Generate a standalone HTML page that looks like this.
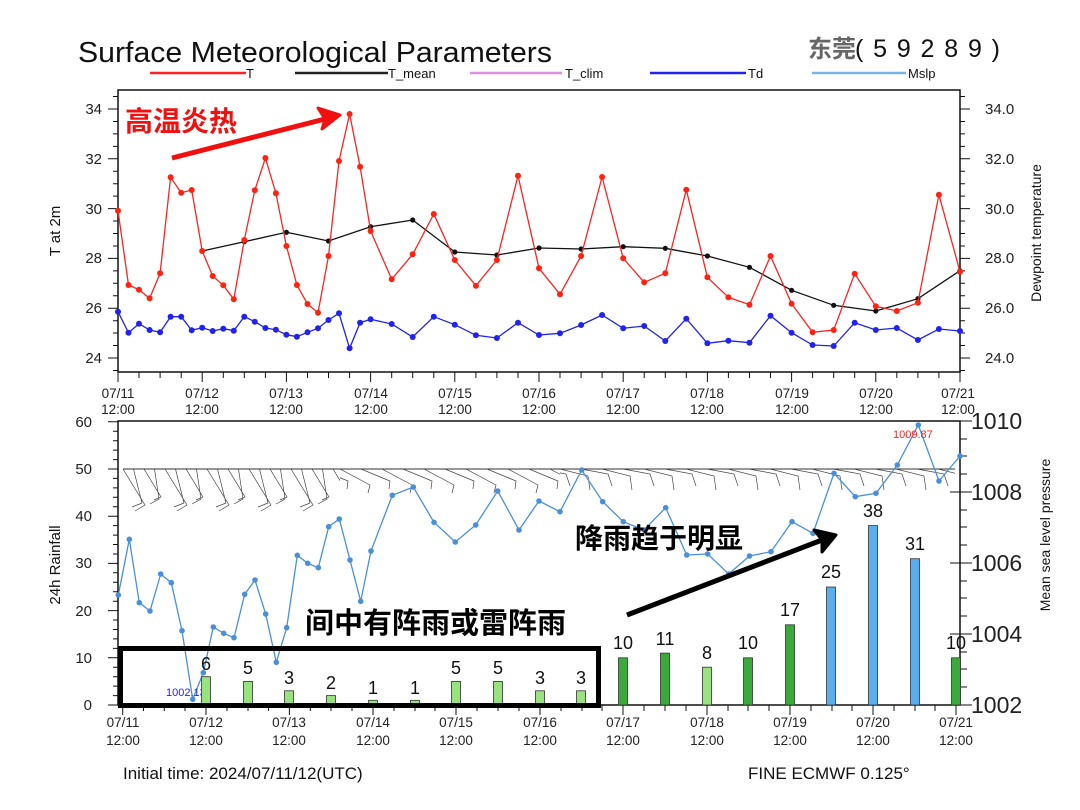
<!DOCTYPE html>
<html><head><meta charset="utf-8"><style>
body{margin:0;background:#fff}
svg{display:block;font-family:"Liberation Sans","Noto Sans CJK SC",sans-serif}
</style></head><body>
<svg width="1080" height="810" viewBox="0 0 1080 810" xmlns="http://www.w3.org/2000/svg">
<defs>
<marker id="mr" markerWidth="8" markerHeight="8" refX="4" refY="4" markerUnits="userSpaceOnUse"><circle cx="4" cy="4" r="3" fill="#f21"/></marker>
<marker id="mb" markerWidth="8" markerHeight="8" refX="4" refY="4" markerUnits="userSpaceOnUse"><circle cx="4" cy="4" r="3" fill="#22e"/></marker>
<marker id="mk" markerWidth="8" markerHeight="8" refX="4" refY="4" markerUnits="userSpaceOnUse"><circle cx="4" cy="4" r="2.6" fill="#111"/></marker>
<marker id="ml" markerWidth="8" markerHeight="8" refX="4" refY="4" markerUnits="userSpaceOnUse"><circle cx="4" cy="4" r="2.8" fill="#4a90d9"/></marker>
<pattern id="pa" x="123" y="469" width="42" height="45" patternUnits="userSpaceOnUse">
<path d="M0,0L22,36L12,42M10.5,0L19,34L9,38M21,0L38,28L31,31M31.5,0L36,30L27,35
M-42,0L-20,36L-30,42M-31.5,0L-23,34L-33,38M-21,0L-4,28L-11,31M-10.5,0L-6,30L-15,35" stroke="#444" stroke-width="0.7" fill="none"/></pattern>
<pattern id="pb" x="340" y="469" width="42" height="45" patternUnits="userSpaceOnUse">
<path d="M0,0L30,16L28,24M21,0L50,12L49,20M-42,0L-12,16L-14,24M-21,0L8,12L7,20" stroke="#444" stroke-width="0.7" fill="none"/></pattern>
<pattern id="pc" x="560" y="466" width="42" height="45" patternUnits="userSpaceOnUse">
<path d="M0,3L28,10L30,24M21,3L48,8L52,20M-42,3L-14,10L-12,24M-21,3L6,8L10,20" stroke="#444" stroke-width="0.7" fill="none"/></pattern>
</defs>

<text x="78" y="62" font-size="29" fill="#111" textLength="474" lengthAdjust="spacingAndGlyphs">Surface Meteorological Parameters</text>
<text x="808" y="57" font-size="24" fill="#666" font-weight="bold">东莞</text>
<text x="855" y="57" font-size="25" fill="#111" textLength="145" lengthAdjust="spacing">(59289)</text>

<g font-size="13" fill="#111">
<line x1="150" y1="73" x2="246" y2="73" stroke="#f22" stroke-width="2.5"/><text x="246" y="78">T</text>
<line x1="295" y1="73" x2="388" y2="73" stroke="#222" stroke-width="2.5"/><text x="388" y="78">T_mean</text>
<line x1="470" y1="73" x2="562" y2="73" stroke="#e08ee0" stroke-width="2.5"/><text x="565" y="78">T_clim</text>
<line x1="650" y1="73" x2="746" y2="73" stroke="#22e" stroke-width="2.5"/><text x="748" y="78">Td</text>
<line x1="812" y1="73" x2="906" y2="73" stroke="#7ab4e6" stroke-width="2.5"/><text x="908" y="78">Mslp</text>
</g>

<!-- TOP PANEL -->
<rect x="118" y="90" width="842" height="282" fill="none" stroke="#111" stroke-width="1.5"/>
<g stroke="#111" stroke-width="1">
<path d="M118,358h-10M118,308.2h-10M118,258.4h-10M118,208.6h-10M118,158.8h-10M118,109h-10M118,370.5h-5M118,345.5h-5M118,333h-5M118,320.7h-5M118,295.8h-5M118,283.3h-5M118,270.9h-5M118,246h-5M118,233.5h-5M118,221h-5M118,196.1h-5M118,183.7h-5M118,171.2h-5M118,146.4h-5M118,133.9h-5M118,121.5h-5M118,96.5h-5"/>
<path d="M960,358h10M960,308.2h10M960,258.4h10M960,208.6h10M960,158.8h10M960,109h10M960,370.5h5M960,345.5h5M960,333h5M960,320.7h5M960,295.8h5M960,283.3h5M960,270.9h5M960,246h5M960,233.5h5M960,221h5M960,196.1h5M960,183.7h5M960,171.2h5M960,146.4h5M960,133.9h5M960,121.5h5M960,96.5h5"/>
<path d="M118,372v10M202.2,372v10M286.4,372v10M370.6,372v10M454.8,372v10M539,372v10M623.2,372v10M707.4,372v10M791.6,372v10M875.8,372v10M960,372v10M139,372v6M160.1,372v6M181.2,372v6M223.3,372v6M244.3,372v6M265.4,372v6M307.5,372v6M328.5,372v6M349.6,372v6M391.7,372v6M412.7,372v6M433.8,372v6M475.9,372v6M496.9,372v6M518,372v6M560,372v6M581.1,372v6M602.1,372v6M644.2,372v6M665.3,372v6M686.3,372v6M728.4,372v6M749.5,372v6M770.5,372v6M812.6,372v6M833.7,372v6M854.7,372v6M896.8,372v6M917.9,372v6M938.9,372v6"/>
</g>
<g font-size="15" fill="#222" text-anchor="end">
<text x="102" y="363">24</text><text x="102" y="313">26</text><text x="102" y="263">28</text><text x="102" y="214">30</text><text x="102" y="164">32</text><text x="102" y="114">34</text>
</g>
<g font-size="15" fill="#222">
<text x="985" y="363">24.0</text><text x="985" y="313">26.0</text><text x="985" y="263">28.0</text><text x="985" y="214">30.0</text><text x="985" y="164">32.0</text><text x="985" y="114">34.0</text>
</g>
<text transform="translate(60,231) rotate(-90)" font-size="15" text-anchor="middle" fill="#111">T at 2m</text>
<text transform="translate(1041,233) rotate(-90)" font-size="14" text-anchor="middle" fill="#111">Dewpoint temperature</text>
<g font-size="13.5" fill="#222" text-anchor="middle">
<text x="118" y="398">07/11</text><text x="202" y="398">07/12</text><text x="286" y="398">07/13</text><text x="371" y="398">07/14</text><text x="455" y="398">07/15</text><text x="539" y="398">07/16</text><text x="623" y="398">07/17</text><text x="707" y="398">07/18</text><text x="792" y="398">07/19</text><text x="876" y="398">07/20</text><text x="958" y="398">07/21</text>
<text x="118" y="414">12:00</text><text x="202" y="414">12:00</text><text x="286" y="414">12:00</text><text x="371" y="414">12:00</text><text x="455" y="414">12:00</text><text x="539" y="414">12:00</text><text x="623" y="414">12:00</text><text x="707" y="414">12:00</text><text x="792" y="414">12:00</text><text x="876" y="414">12:00</text><text x="958" y="414">12:00</text>
</g>

<polyline fill="none" stroke="#111" stroke-width="1.3" marker-start="url(#mk)" marker-mid="url(#mk)" marker-end="url(#mk)" points="202.2,251 244.3,241.7 286.4,232.3 328.5,241 370.6,226.7 412.7,220 454.8,252 496.9,255 539,248 581.1,249 623.2,246.7 665.3,248.3 707.4,256 749.5,267.3 791.6,290.3 833.7,305.3 875.8,311 917.9,298.7 960,270.7"/>
<polyline fill="none" stroke="#f22" stroke-width="1.3" marker-start="url(#mr)" marker-mid="url(#mr)" marker-end="url(#mr)" points="118,210.7 128.5,285 139,289.7 149.6,298.3 160.1,273.3 170.6,177.3 181.2,192.7 191.7,190 202.2,251 212.7,276 223.3,285.3 233.8,299.3 244.3,240 254.8,190.3 265.4,158 275.9,193.3 286.4,246 296.9,285 307.5,304 318,312.7 328.5,256 339,161 349.6,114 360.1,166.7 370.6,231 391.7,279.3 412.7,254.3 433.8,214 454.8,260 475.9,285.7 496.9,260 518,175.7 539,268.3 560,294.3 581.1,256 602.1,177 623.2,258.3 644.2,282.3 665.3,273.3 686.3,189.7 707.4,277.3 728.4,297.3 749.5,304.7 770.5,256 791.6,303.7 812.6,332.3 833.7,330 854.7,273.7 875.8,306.3 896.8,311 917.9,302.7 938.9,194.7 960,271.7"/>
<polyline fill="none" stroke="#22e" stroke-width="1.3" marker-start="url(#mb)" marker-mid="url(#mb)" marker-end="url(#mb)" points="118,311.7 128.5,332.7 139,323.7 149.6,330 160.1,332.3 170.6,316.7 181.2,316.7 191.7,330.3 202.2,327.7 212.7,331 223.3,328.7 233.8,330.7 244.3,316.7 254.8,321.7 265.4,328 275.9,329.7 286.4,334.7 296.9,336.7 307.5,332.3 318,328.3 328.5,320 339,313.3 349.6,348.3 360.1,322.7 370.6,319.3 391.7,324 412.7,337 433.8,316.7 454.8,324.7 475.9,335.3 496.9,338 518,322.7 539,335 560,333.3 581.1,325 602.1,315 623.2,328.3 644.2,326 665.3,341 686.3,318.7 707.4,343.3 728.4,340.7 749.5,342.7 770.5,315.7 791.6,332.7 812.6,345 833.7,346 854.7,322.7 875.8,330 896.8,328 917.9,340 938.9,329 960,331"/>

<text x="125" y="131" font-size="28" font-weight="bold" fill="#f01010">高温炎热</text>
<line x1="172" y1="158" x2="325" y2="119" stroke="#f01010" stroke-width="5"/>
<path d="M340,115L318,108L325,119L322,129Z" fill="#f01010" stroke="#f01010" stroke-width="3" stroke-linejoin="round"/>

<!-- BOTTOM PANEL -->
<rect x="123" y="466" width="217" height="46" fill="url(#pa)"/>
<rect x="340" y="455" width="220" height="40" fill="url(#pb)"/>
<rect x="560" y="455" width="395" height="45" fill="url(#pc)"/>
<line x1="123" y1="469" x2="955" y2="469" stroke="#333" stroke-width="1"/>

<rect x="118" y="421" width="842" height="284" fill="none" stroke="#111" stroke-width="1.5"/>
<g stroke="#111" stroke-width="1">
<path d="M118,705h-10M118,657.8h-10M118,610.6h-10M118,563.4h-10M118,516.2h-10M118,469h-10M118,421.8h-10M118,695.6h-5M118,686.1h-5M118,676.7h-5M118,667.2h-5M118,648.4h-5M118,638.9h-5M118,629.5h-5M118,620h-5M118,601.2h-5M118,591.7h-5M118,582.3h-5M118,572.8h-5M118,554h-5M118,544.5h-5M118,535.1h-5M118,525.6h-5M118,506.8h-5M118,497.3h-5M118,487.9h-5M118,478.4h-5M118,459.6h-5M118,450.1h-5M118,440.7h-5M118,431.2h-5"/>
<path d="M950,705h22M950,634h22M950,563h22M950,492h22M950,421h22M960,687h7M960,669h7M960,652h7M960,616h7M960,598h7M960,581h7M960,545h7M960,527h7M960,510h7M960,474h7M960,456h7M960,439h7"/>
<path d="M122.7,705v10M206,705v10M289.4,705v10M373,705v10M456,705v10M540,705v10M623,705v10M707,705v10M790,705v10M873,705v10M956,705v10M143.5,705v6M164.3,705v6M185,705v6M227,705v6M248,705v6M268.6,705v6M310.3,705v6M331,705v6M352,705v6M394,705v6M415,705v6M435,705v6M477,705v6M498,705v6M519,705v6M561,705v6M582,705v6M602,705v6M644,705v6M665,705v6M686,705v6M728,705v6M748,705v6M769,705v6M811,705v6M832,705v6M852,705v6M894,705v6M915,705v6M935,705v6"/>
</g>
<g font-size="15" fill="#222" text-anchor="end">
<text x="92" y="710">0</text><text x="92" y="663">10</text><text x="92" y="616">20</text><text x="92" y="568">30</text><text x="92" y="521">40</text><text x="92" y="474">50</text><text x="92" y="427">60</text>
</g>
<g font-size="23" fill="#222">
<text x="971" y="713">1002</text><text x="971" y="642">1004</text><text x="971" y="571">1006</text><text x="971" y="500">1008</text><text x="971" y="429">1010</text>
</g>
<text transform="translate(60,565) rotate(-90)" font-size="15" text-anchor="middle" fill="#111">24h Rainfall</text>
<text transform="translate(1050,535) rotate(-90)" font-size="14" text-anchor="middle" fill="#111">Mean sea level pressure</text>
<g font-size="13.5" fill="#222" text-anchor="middle">
<text x="123" y="727">07/11</text><text x="206" y="727">07/12</text><text x="289" y="727">07/13</text><text x="373" y="727">07/14</text><text x="456" y="727">07/15</text><text x="540" y="727">07/16</text><text x="623" y="727">07/17</text><text x="707" y="727">07/18</text><text x="790" y="727">07/19</text><text x="873" y="727">07/20</text><text x="956" y="727">07/21</text>
<text x="123" y="745">12:00</text><text x="206" y="745">12:00</text><text x="289" y="745">12:00</text><text x="373" y="745">12:00</text><text x="456" y="745">12:00</text><text x="540" y="745">12:00</text><text x="623" y="745">12:00</text><text x="707" y="745">12:00</text><text x="790" y="745">12:00</text><text x="873" y="745">12:00</text><text x="956" y="745">12:00</text>
</g>

<polyline fill="none" stroke="#4a90d9" stroke-width="1.3" marker-start="url(#ml)" marker-mid="url(#ml)" marker-end="url(#ml)" points="118.3,595 129.3,539.3 139.3,602.7 150,611 160.7,574 171.3,582.7 182,630.7 192.7,699.3 203.3,672.7 213.3,627 223.7,633.3 234,637.7 244.7,594.3 255,580 265.7,614 276.3,662.3 286.7,627.7 297.3,555.3 307.7,563.3 318.3,567.7 328.7,526.7 339.3,519 350,560 360.7,601.3 371,551 392.3,495.3 413.3,487 434,522.3 455.3,542 475.7,525 497.7,491 519,530 539,501 560,511.7 581.7,470 602.7,501.7 623.3,521.7 644,530 665.7,507.7 686.7,555 707.7,554 728.7,574 749.5,556 771,551.7 792,521.7 813,533.3 834,473.3 855.3,496.7 876,493.3 897.3,465 918.3,425 939,481 960,456"/>
<text x="166" y="696" font-size="11" fill="#22e">1002.13</text>
<text x="893" y="438" font-size="11" fill="#f22">1009.87</text>

<g stroke="#333" stroke-width="0.8">
<rect x="201.5" y="676.7" width="9" height="28.3" fill="#98e27f"/>
<rect x="243.5" y="681.4" width="9" height="23.6" fill="#98e27f"/>
<rect x="284.5" y="690.8" width="9" height="14.2" fill="#98e27f"/>
<rect x="326.5" y="695.6" width="9" height="9.4" fill="#98e27f"/>
<rect x="368.5" y="700.3" width="9" height="4.7" fill="#98e27f"/>
<rect x="410.5" y="700.3" width="9" height="4.7" fill="#98e27f"/>
<rect x="451.5" y="681.4" width="9" height="23.6" fill="#98e27f"/>
<rect x="493.5" y="681.4" width="9" height="23.6" fill="#98e27f"/>
<rect x="535.5" y="690.8" width="9" height="14.2" fill="#98e27f"/>
<rect x="576.5" y="690.8" width="9" height="14.2" fill="#98e27f"/>
<rect x="618.5" y="657.8" width="9" height="47.2" fill="#3aab3a"/>
<rect x="660.5" y="653.1" width="9" height="51.9" fill="#3aab3a"/>
<rect x="702.5" y="667.2" width="9" height="37.8" fill="#98e27f"/>
<rect x="743.5" y="657.8" width="9" height="47.2" fill="#3aab3a"/>
<rect x="785.5" y="624.8" width="9" height="80.2" fill="#3aab3a"/>
<rect x="826.5" y="587" width="9" height="118" fill="#5aaef0"/>
<rect x="868.5" y="525.6" width="9" height="179.4" fill="#5aaef0"/>
<rect x="910.5" y="558.7" width="9" height="146.3" fill="#5aaef0"/>
<rect x="951.5" y="657.8" width="9" height="47.2" fill="#3aab3a"/>
</g>
<g font-size="18" fill="#111" text-anchor="middle">
<text x="206" y="670">6</text><text x="248" y="674">5</text><text x="289" y="684">3</text><text x="331" y="689">2</text><text x="373" y="694">1</text><text x="415" y="694">1</text><text x="456" y="674">5</text><text x="498" y="674">5</text><text x="540" y="684">3</text><text x="581" y="684">3</text>
<text x="623" y="649">10</text><text x="665" y="645">11</text><text x="707" y="659">8</text><text x="748" y="649">10</text><text x="790" y="616">17</text><text x="831" y="578">25</text><text x="873" y="517">38</text><text x="915" y="550">31</text><text x="956" y="649">10</text>
</g>

<rect x="120.5" y="648.5" width="478" height="57" fill="none" stroke="#000" stroke-width="5"/>
<text x="305" y="633" font-size="29" font-weight="bold" fill="#000">间中有阵雨或雷阵雨</text>
<text x="575" y="548" font-size="28" font-weight="bold" fill="#000">降雨趋于明显</text>
<line x1="627" y1="615" x2="822" y2="540" stroke="#000" stroke-width="5"/>
<path d="M836,535L814,530L822,540L822,552Z" fill="#000" stroke="#000" stroke-width="3" stroke-linejoin="round"/>

<text x="123" y="779" font-size="17" fill="#111">Initial time: 2024/07/11/12(UTC)</text>
<text x="748" y="779" font-size="17" fill="#111">FINE ECMWF 0.125°</text>
</svg>
</body></html>
